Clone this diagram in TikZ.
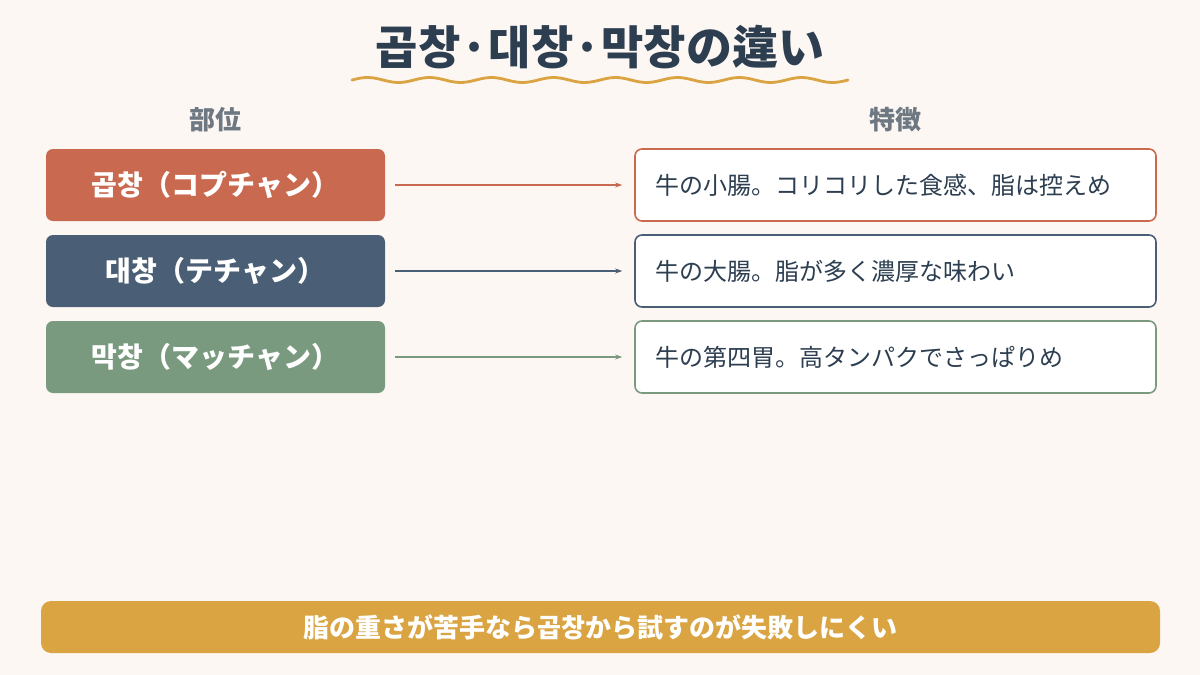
\documentclass[tikz,border=0pt]{standalone}
\usepackage{fontspec}
\setmainfont{Noto Sans CJK KR}
\usetikzlibrary{arrows.meta,positioning}
\definecolor{bgcol}{RGB}{252,247,243}
\definecolor{navy}{RGB}{44,62,80}
\definecolor{gopcol}{RGB}{201,106,80}
\definecolor{daecol}{RGB}{74,94,117}
\definecolor{makcol}{RGB}{122,154,128}
\definecolor{goldcol}{RGB}{217,164,65}
\definecolor{graycol}{RGB}{110,120,130}
\tikzset{
  part/.style={rounded corners=7pt,minimum width=339pt,minimum height=72pt,text=white,font=\fontsize{28}{32}\selectfont\bfseries},
  feat/.style={rounded corners=7pt,draw,line width=1.6pt,fill=white,minimum width=521pt,minimum height=72pt,text=navy,font=\fontsize{24}{28}\selectfont,text width=481pt,align=left},
  link/.style={-{Stealth[length=7pt,width=5pt]},line width=1.1pt},
  head/.style={text=graycol,font=\fontsize{26}{30}\selectfont\bfseries}
}
\begin{document}
\begin{tikzpicture}[x=1pt,y=1pt,yscale=-1,xscale=1]
\fill[bgcol] (0,0) rectangle (1200,675);
\useasboundingbox (0,0) rectangle (1200,675);

% title
\node (title) at (600,47) [text=navy,font=\fontsize{46}{50}\selectfont\bfseries] {곱창·대창·막창の違い};
\draw[goldcol,line width=2.8pt,line cap=round] plot[domain=0:496,samples=120] ({352+\x},{80-2.5*sin(\x*5.806)});

% headers
\node (hpart) at (215,120) [head] {部位};
\node (hfeat) at (895,120) [head] {特徴};

% rows
\node (gop) at (215.5,185) [part,fill=gopcol] {곱창（コプチャン）};
\node (dae) at (215.5,271) [part,fill=daecol] {대창（テチャン）};
\node (mak) at (215.5,357) [part,fill=makcol] {막창（マッチャン）};

\node (gopf) at (895.5,185) [feat,draw=gopcol] {牛の小腸。コリコリした食感、脂は控えめ};
\node (daef) at (895.5,271) [feat,draw=daecol] {牛の大腸。脂が多く濃厚な味わい};
\node (makf) at (895.5,357) [feat,draw=makcol] {牛の第四胃。高タンパクでさっぱりめ};

\draw[link,gopcol] ([xshift=10pt]gop.east) -- ([xshift=-12pt]gopf.west);
\draw[link,daecol] ([xshift=10pt]dae.east) -- ([xshift=-12pt]daef.west);
\draw[link,makcol] ([xshift=10pt]mak.east) -- ([xshift=-12pt]makf.west);

% note
\node (note) at (600.5,627) [rounded corners=10pt,fill=goldcol,minimum width=1119pt,minimum height=52pt,text=white,font=\fontsize{26}{30}\selectfont\bfseries] {脂の重さが苦手なら곱창から試すのが失敗しにくい};
\end{tikzpicture}
\end{document}
